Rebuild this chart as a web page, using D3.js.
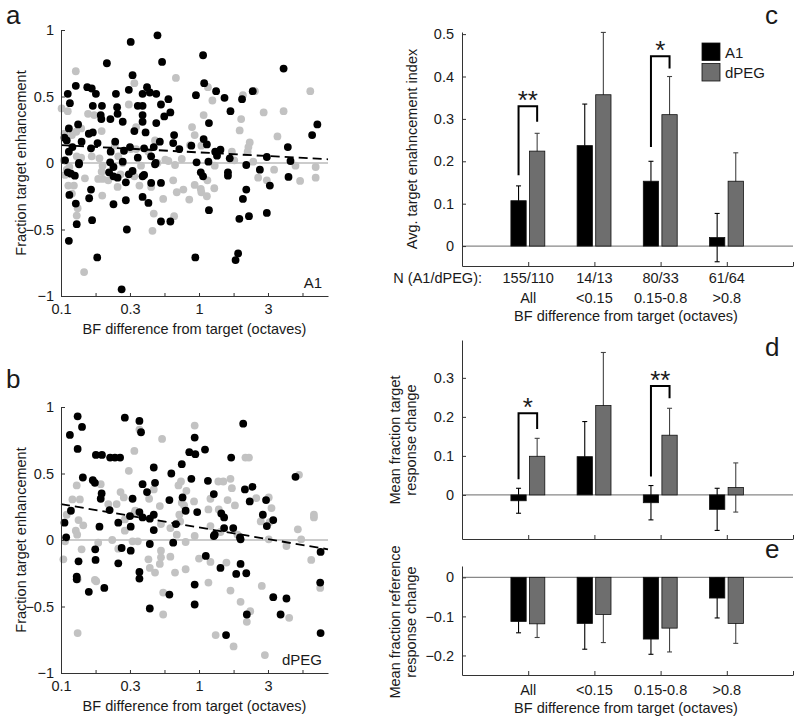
<!DOCTYPE html>
<html><head><meta charset="utf-8">
<script src="https://cdn.jsdelivr.net/npm/d3@7"></script>
<style>
body{margin:0;background:#fff}
svg text{font-family:"Liberation Sans",Arial,sans-serif;fill:#1a1a1a}
</style>
</head><body>
<svg id="fig" width="800" height="723"></svg>
<script>
// ---------- scatter data (x = BF difference in octaves, y = fraction target enhancement)
const aBlack = [[0.32,0.91],[0.50,0.96],[0.215,0.75],[0.54,0.76],[1.07,0.81],[4.1,0.71],[0.33,0.66],[0.128,0.58],[0.112,0.52],[0.116,0.45],[0.155,0.57],[0.167,0.56],[0.179,0.52],[0.17,0.43],[0.198,0.43],[0.194,0.36],[0.196,0.33],[0.228,0.33],[0.25,0.52],[0.255,0.42],[0.257,0.37],[0.28,0.31],[0.31,0.55],[0.36,0.43],[0.39,0.43],[0.39,0.52],[0.42,0.57],[0.44,0.53],[0.39,0.36],[0.39,0.31],[0.34,0.24],[0.49,0.52],[0.53,0.44],[0.49,0.30],[0.56,0.35],[0.60,0.48],[0.62,0.38],[0.41,0.23],[0.52,0.16],[0.66,0.21],[0.95,0.51],[1.09,0.60],[1.18,0.30],[1.33,0.54],[1.53,0.49],[1.69,0.39],[2.05,0.48],[2.45,0.54],[1.08,0.18],[1.14,0.14],[0.114,0.26],[0.133,0.29],[0.159,0.22],[0.17,0.23],[0.106,0.19],[0.11,0.17],[0.141,0.16],[0.184,0.15],[0.247,0.16],[0.121,0.12],[0.165,0.11],[0.229,0.085],[0.286,0.092],[0.316,0.12],[0.40,0.11],[0.47,0.12],[0.65,0.15],[0.72,0.105],[0.88,0.13],[0.114,0.085],[0.36,0.04],[0.45,0.05],[1.31,0.085],[1.43,0.10],[3.1,0.045],[4.4,0.12],[4.6,0.015],[6.6,0.21],[7.2,0.29],[0.107,0.02],[0.135,0.0],[0.227,0.005],[0.28,0.01],[0.485,0.0],[0.96,0.005],[1.35,0.055],[1.67,0.035],[0.135,-0.01],[0.48,-0.01],[1.17,0.01],[0.112,-0.07],[0.118,-0.08],[0.126,-0.095],[0.223,-0.07],[0.24,-0.03],[0.24,-0.10],[0.257,-0.11],[0.31,-0.085],[0.33,-0.06],[0.39,-0.10],[0.40,-0.09],[0.45,-0.15],[0.53,-0.15],[0.295,-0.145],[1.03,-0.07],[1.07,-0.10],[1.62,-0.07],[1.62,-0.095],[2.2,-0.015],[2.76,-0.05],[3.26,-0.17],[4.45,-0.105],[2.2,-0.20],[0.115,-0.24],[0.165,-0.20],[0.16,-0.265],[0.128,-0.305],[0.24,-0.31],[0.295,-0.28],[0.39,-0.255],[0.43,-0.30],[1.18,-0.355],[2.08,-0.27],[3.1,-0.375],[0.168,-0.43],[0.13,-0.46],[0.53,-0.44],[0.62,-0.44],[1.96,-0.42],[2.3,-0.40],[0.30,-0.50],[0.114,-0.585],[0.183,-0.71],[0.94,-0.71],[1.92,-0.68],[1.84,-0.73],[0.275,-0.95]];
const aGray = [[0.128,0.69],[0.34,0.60],[0.68,0.64],[1.16,0.57],[1.25,0.47],[0.112,0.39],[0.101,0.41],[0.157,0.37],[0.174,0.36],[0.197,0.24],[0.31,0.44],[0.35,0.27],[0.89,0.27],[1.08,0.36],[0.93,0.21],[1.97,0.245],[2.02,0.33],[2.08,0.51],[2.94,0.38],[2.54,0.54],[4.1,0.39],[3.7,0.20],[6.4,0.54],[2.33,0.155],[2.28,0.12],[2.25,0.085],[0.86,0.135],[1.04,0.13],[1.73,0.085],[0.129,0.235],[0.14,0.26],[0.106,0.22],[0.12,0.21],[0.13,0.05],[0.167,0.05],[0.19,0.035],[0.26,0.05],[0.32,0.105],[0.35,0.105],[0.48,0.17],[0.43,0.085],[0.57,0.025],[0.60,0.015],[2.47,0.01],[0.246,0.13],[0.11,-0.05],[0.107,-0.09],[0.113,-0.17],[0.124,-0.17],[0.12,-0.23],[0.132,-0.34],[0.13,-0.395],[0.147,-0.82],[0.149,-0.115],[0.186,-0.12],[0.20,-0.12],[0.197,-0.065],[0.22,-0.13],[0.257,-0.18],[0.199,-0.245],[0.27,-0.085],[0.34,-0.10],[0.37,-0.17],[0.45,-0.18],[0.47,-0.38],[0.46,-0.51],[0.55,-0.27],[0.65,-0.13],[0.69,-0.22],[0.77,-0.20],[0.66,-0.40],[0.85,-0.275],[0.93,-0.165],[1.03,-0.195],[1.04,-0.22],[1.14,-0.25],[1.15,-0.13],[1.29,-0.19],[0.67,-0.015],[2.68,-0.11],[3.1,-0.13],[5.4,-0.135],[7.0,-0.11],[7.0,-0.03],[0.105,0.02],[0.115,-0.03],[0.14,0.04],[0.2,-0.02],[0.28,0.0],[0.38,-0.02],[0.5,0.0],[0.75,0.03],[1.3,-0.02],[1.8,0.02],[3.5,-0.05],[5.0,-0.02]];
const aFit = [[0.1,0.135],[8.6,0.028]];

const bBlack = [[0.132,0.93],[0.29,0.92],[0.116,0.79],[0.142,0.85],[0.37,0.895],[0.38,0.81],[2.09,0.875],[0.132,0.685],[0.179,0.64],[0.198,0.64],[0.227,0.62],[0.246,0.62],[0.268,0.62],[0.144,0.47],[0.17,0.45],[0.176,0.43],[0.47,0.545],[0.39,0.42],[0.48,0.43],[0.42,0.36],[0.197,0.35],[0.194,0.31],[0.33,0.31],[0.63,0.50],[0.75,0.57],[0.85,0.66],[0.94,0.645],[0.93,0.77],[1.105,0.68],[0.88,0.46],[1.16,0.445],[0.61,0.30],[0.76,0.32],[1.28,0.345],[1.71,0.62],[2.15,0.38],[2.44,0.40],[2.33,0.29],[3.06,0.30],[5.0,0.475],[0.118,0.22],[0.225,0.225],[0.316,0.18],[0.37,0.21],[0.39,0.17],[0.44,0.16],[0.47,0.19],[0.47,0.075],[0.80,0.22],[0.97,0.21],[1.45,0.20],[1.52,0.17],[2.9,0.19],[3.45,0.15],[3.1,0.105],[0.106,0.13],[0.19,0.10],[0.26,0.13],[0.32,0.10],[0.68,0.12],[1.30,0.04],[1.52,0.09],[1.77,0.09],[1.98,0.02],[0.109,0.02],[0.44,-0.03],[0.65,-0.02],[1.28,0.03],[2.0,0.005],[0.275,-0.06],[0.32,-0.08],[0.177,-0.07],[0.134,-0.16],[0.178,-0.15],[0.26,-0.175],[7.6,-0.09],[0.13,-0.275],[0.13,-0.295],[0.159,-0.39],[0.206,-0.36],[0.37,-0.24],[0.37,-0.29],[0.44,-0.515],[0.61,-0.41],[0.93,-0.335],[0.93,-0.485],[1.12,-0.12],[1.43,-0.21],[1.57,-0.715],[1.86,-0.255],[2.0,-0.18],[2.2,-0.25],[2.22,-0.56],[3.45,-0.43],[4.3,-0.44],[3.9,-0.56],[7.55,-0.32],[7.6,-0.70]];
const bGray = [[0.93,0.86],[0.54,0.76],[0.34,0.67],[0.37,0.83],[0.31,0.52],[0.13,0.41],[0.121,0.305],[0.137,0.305],[0.194,0.42],[0.27,0.36],[0.285,0.32],[0.253,0.27],[0.22,0.27],[0.435,0.31],[0.47,0.38],[0.52,0.255],[0.34,0.20],[0.71,0.41],[0.74,0.44],[0.81,0.37],[0.75,0.28],[0.78,0.26],[0.72,0.19],[0.92,0.29],[1.17,0.23],[1.21,0.31],[1.38,0.44],[1.5,0.44],[1.69,0.46],[1.73,0.39],[1.61,0.30],[1.82,0.26],[1.39,0.23],[2.17,0.62],[2.3,0.62],[2.6,0.315],[3.2,0.32],[3.35,0.24],[5.3,0.49],[6.8,0.17],[6.8,0.19],[5.2,0.08],[2.8,0.14],[0.11,0.19],[0.134,0.15],[0.145,0.11],[0.128,0.07],[0.131,0.04],[0.29,0.155],[0.29,0.07],[0.345,0.22],[0.53,0.12],[0.62,0.09],[0.73,0.14],[0.69,0.04],[0.93,0.03],[1.21,0.105],[1.43,0.06],[1.9,0.04],[3.25,0.135],[5.5,0.005],[0.107,-0.01],[0.104,-0.145],[0.141,-0.07],[0.132,-0.295],[0.132,-0.70],[0.176,-0.30],[0.18,-0.31],[0.186,-0.02],[0.26,-0.065],[0.235,0.0],[0.33,-0.01],[0.36,-0.01],[0.43,-0.145],[0.44,-0.21],[0.48,-0.245],[0.53,-0.08],[0.53,-0.13],[0.52,-0.18],[0.55,-0.395],[0.55,-0.56],[0.62,-0.125],[0.67,-0.245],[0.80,-0.22],[0.80,-0.015],[1.0,-0.14],[1.17,-0.32],[1.21,-0.165],[1.32,-0.715],[1.58,-0.17],[1.69,-0.38],[1.78,-0.80],[2.0,-0.465],[2.22,-0.615],[2.35,-0.535],[2.85,-0.345],[3.0,-0.865],[4.5,-0.585],[3.2,0.005],[4.3,-0.045],[6.5,-0.15],[7.55,-0.36]];
const bFit = [[0.1,0.27],[8.6,-0.07]];

const scatterXTicks = [0.1,0.178,0.316,0.562,1,1.78,3.16,5.62];
const scatterXLabels = ["0.1","","0.3","","1","","3",""];
const scatterYTicks = [-1,-0.5,0,0.5,1];
const scatterYLabels = ["\u22121","\u22120.5","0","0.5","1"];

// ---------- bar data
const categories = ["All","<0.15","0.15-0.8",">0.8"];
const nLabels = ["155/110","14/13","80/33","61/64"];
const seriesNames = ["A1","dPEG"];
const cA1 = [0.107,0.237,0.153,0.02];
const cA1Err = [0.035,0.098,0.047,0.057];
const cDPEG = [0.224,0.357,0.310,0.153];
const cDPEGErr = [0.042,0.147,0.090,0.067];
const dA1 = [-0.015,0.098,-0.02,-0.037];
const dA1Err = [0.032,0.090,0.044,0.054];
const dDPEG = [0.099,0.229,0.153,0.019];
const dDPEGErr = [0.046,0.136,0.069,0.063];
const eA1 = [-0.113,-0.118,-0.158,-0.053];
const eA1Err = [0.029,0.066,0.039,0.051];
const eDPEG = [-0.119,-0.095,-0.130,-0.118];
const eDPEGErr = [0.035,0.072,0.061,0.051];
const cYTicks = [0,0.1,0.2,0.3,0.4,0.5];
const dYTicks = [0,0.1,0.2,0.3];
const eYTicks = [-0.2,-0.1,0];
const cSig = [{g:0,stars:"**",top:0.33,left:0.167,right:0.293},{g:2,stars:"*",top:0.448,left:0.234,right:0.419}];
const dSig = [{g:0,stars:"*",top:0.209,left:0.04,right:0.169},{g:2,stars:"**",top:0.279,left:0.047,right:0.248}];

const svg = d3.select("#fig");
const FS = "14.5px";
const AX = "#333";

function styleAxis(g){
  g.attr("font-family",null).attr("font-size",null);
  g.selectAll(".domain").attr("stroke",AX).attr("stroke-width",1);
  g.selectAll(".tick line").attr("stroke",AX);
  g.selectAll("text").style("font-size",FS).attr("fill","#1a1a1a");
}

function scatterPanel(black, gray, fit, top, bottom, tag){
  const x = d3.scaleLog().domain([0.1,8.6]).range([61,328]);
  const y = d3.scaleLinear().domain([-1,1]).range([bottom,top]);
  const g = svg.append("g");
  g.append("line").attr("x1",x(0.1)).attr("x2",x(8.6)).attr("y1",y(0)).attr("y2",y(0))
    .attr("stroke","#999").attr("stroke-width",1.2);
  g.append("g").selectAll("circle").data(gray).join("circle")
    .attr("cx",d=>x(d[0])).attr("cy",d=>y(d[1])).attr("r",3.9).attr("fill","#c2c2c2");
  g.append("g").selectAll("circle").data(black).join("circle")
    .attr("cx",d=>x(d[0])).attr("cy",d=>y(d[1])).attr("r",3.9).attr("fill","#000");
  g.append("path").datum(fit).attr("d",d3.line().x(d=>x(d[0])).y(d=>y(d[1])))
    .attr("stroke","#000").attr("stroke-width",1.8).attr("stroke-dasharray","9,5").attr("fill","none");
  g.append("g").attr("transform",`translate(${x(0.1)},0)`)
    .call(d3.axisLeft(y).tickValues(scatterYTicks).tickFormat((d,i)=>scatterYLabels[i]).tickSize(-4).tickSizeOuter(0).tickPadding(7))
    .call(styleAxis);
  g.append("g").attr("transform",`translate(0,${bottom})`)
    .call(d3.axisBottom(x).tickValues(scatterXTicks).tickFormat((d,i)=>scatterXLabels[i]).tickSize(-3).tickSizeOuter(0).tickPadding(8))
    .call(styleAxis);
  g.append("text").attr("x",322).attr("y",bottom-8).attr("text-anchor","end").style("font-size","15px").text(tag);
  g.append("text").attr("transform",`translate(26,${(top+bottom)/2}) rotate(-90)`).attr("text-anchor","middle")
    .style("font-size",FS).text("Fraction target enhancement");
  g.append("text").attr("x",(61+328)/2).attr("y",bottom+38).attr("text-anchor","middle")
    .style("font-size",FS).text("BF difference from target (octaves)");
}
scatterPanel(aBlack,aGray,aFit,30,296,"A1");
scatterPanel(bBlack,bGray,bFit,407,673,"dPEG");

const xC = d3.scaleLinear().domain([0,5]).range([462,793]);
const BW = 15.3;
const offA = -17.3, offD = 1.3;

function barPanel(y, A1, A1e, DP, DPe, yTicks, tickFmt, sig){
  const g = svg.append("g");
  const [b0,t0] = y.range();
  g.append("line").attr("x1",xC(0)).attr("x2",xC(5)).attr("y1",y(0)).attr("y2",y(0))
    .attr("stroke","#888").attr("stroke-width",1.3);
  const series = [{v:A1,e:A1e,off:offA,fill:"#000",ec:"#000"},{v:DP,e:DPe,off:offD,fill:"#6e6e6e",ec:"#444"}];
  series.forEach(s=>{
    s.v.forEach((v,i)=>{
      const cx = xC(i+1)+s.off+BW/2;
      const lo = y(v-s.e[i]), hi = y(v+s.e[i]);
      g.append("line").attr("x1",cx).attr("x2",cx).attr("y1",lo).attr("y2",hi).attr("stroke",s.ec).attr("stroke-width",1.1);
      [lo,hi].forEach(yy=>g.append("line").attr("x1",cx-2.5).attr("x2",cx+2.5).attr("y1",yy).attr("y2",yy).attr("stroke",s.ec).attr("stroke-width",1.1));
    });
  });
  series.forEach(s=>{
    g.append("g").selectAll("rect").data(s.v).join("rect")
      .attr("x",(v,i)=>xC(i+1)+s.off).attr("width",BW)
      .attr("y",v=>Math.min(y(0),y(v))).attr("height",v=>Math.abs(y(v)-y(0)))
      .attr("fill",s.fill).attr("stroke","#111").attr("stroke-width",0.8);
  });
  g.append("g").attr("transform",`translate(${xC(0)},0)`)
    .call(d3.axisLeft(y).tickValues(yTicks).tickFormat(tickFmt).tickSize(-4).tickSizeOuter(0).tickPadding(8))
    .call(styleAxis);
  g.append("g").attr("transform",`translate(0,${b0})`)
    .call(d3.axisBottom(xC).tickValues([1,2,3,4,5]).tickFormat("").tickSize(-4).tickSizeOuter(0))
    .call(styleAxis);
  (sig||[]).forEach(s=>{
    const xl = xC(s.g+1)+offA+BW/2, xr = xC(s.g+1)+offD+BW/2;
    g.append("path").attr("d",`M${xl},${y(s.left)}V${y(s.top)}H${xr}V${y(s.right)}`)
      .attr("fill","none").attr("stroke","#000").attr("stroke-width",2);
    g.append("text").attr("x",(xl+xr)/2).attr("y",y(s.top)+3).attr("text-anchor","middle")
      .style("font-size","26px").text(s.stars);
  });
  return g;
}
const fmt = d=> d===0 ? "0" : (d<0?"\u2212":"")+Math.abs(d).toFixed(1);

const yC = d3.scaleLinear().domain([-0.047,0.505]).range([266,32]);
barPanel(yC,cA1,cA1Err,cDPEG,cDPEGErr,cYTicks,fmt,cSig);
const yD = d3.scaleLinear().domain([-0.113,0.397]).range([539,340]);
barPanel(yD,dA1,dA1Err,dDPEG,dDPEGErr,dYTicks,fmt,dSig);
const yE = d3.scaleLinear().domain([-0.25,0.029]).range([675,566]);
barPanel(yE,eA1,eA1Err,eDPEG,eDPEGErr,eYTicks,fmt,[]);

// legend
const leg = svg.append("g");
seriesNames.forEach((n,i)=>{
  leg.append("rect").attr("x",702).attr("y",43+i*20.5).attr("width",18).attr("height",17.5)
    .attr("fill",i===0?"#000":"#6e6e6e").attr("stroke","#111").attr("stroke-width",0.8);
  leg.append("text").attr("x",725).attr("y",57.5+i*20.5).style("font-size","15px").text(n);
});

// category texts for c
svg.append("text").attr("x",482).attr("y",283).attr("text-anchor","end").style("font-size",FS).text("N (A1/dPEG):");
nLabels.forEach((t,i)=>svg.append("text").attr("x",xC(i+1)).attr("y",283).attr("text-anchor","middle").style("font-size",FS).text(t));
categories.forEach((t,i)=>svg.append("text").attr("x",xC(i+1)).attr("y",303).attr("text-anchor","middle").style("font-size",FS).text(t));
svg.append("text").attr("x",626).attr("y",321).attr("text-anchor","middle").style("font-size",FS).text("BF difference from target (octaves)");
categories.forEach((t,i)=>svg.append("text").attr("x",xC(i+1)).attr("y",695).attr("text-anchor","middle").style("font-size",FS).text(t));
svg.append("text").attr("x",626).attr("y",713).attr("text-anchor","middle").style("font-size",FS).text("BF difference from target (octaves)");

// y labels right column
svg.append("text").attr("transform","translate(417,149) rotate(-90)").attr("text-anchor","middle").style("font-size",FS).text("Avg. target enahncement index");
svg.append("text").attr("transform","translate(400,440) rotate(-90)").attr("text-anchor","middle").style("font-size",FS).text("Mean fraction target");
svg.append("text").attr("transform","translate(416,440) rotate(-90)").attr("text-anchor","middle").style("font-size",FS).text("response change");
svg.append("text").attr("transform","translate(400,622) rotate(-90)").attr("text-anchor","middle").style("font-size",FS).text("Mean fraction reference");
svg.append("text").attr("transform","translate(416,622) rotate(-90)").attr("text-anchor","middle").style("font-size",FS).text("response change");

// panel letters
[["a",6,24],["b",6,388],["c",765,24],["d",765,356],["e",765,558]].forEach(([t,x,y])=>
  svg.append("text").attr("x",x).attr("y",y).style("font-size","26px").text(t));
</script>
</body></html>
